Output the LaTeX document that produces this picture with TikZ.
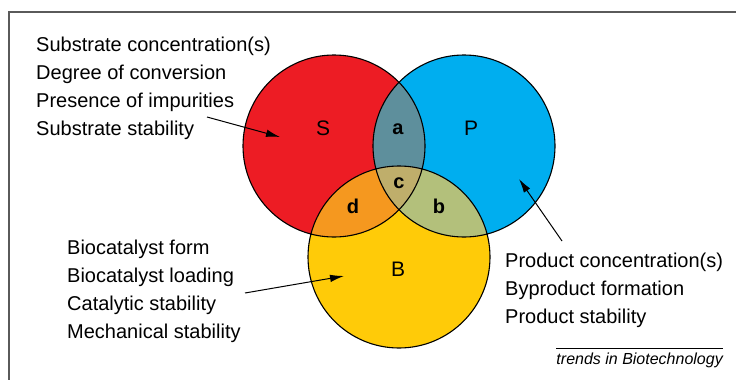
\documentclass[tikz,border=0pt]{standalone}
\usepackage{fontspec}
\setmainfont{Liberation Sans}
\usetikzlibrary{arrows.meta}

\definecolor{subred}{HTML}{ED1C24}
\definecolor{prodblue}{HTML}{00AEEF}
\definecolor{catyellow}{HTML}{FFCB08}
\definecolor{spmix}{HTML}{5E8F9C}
\definecolor{sbmix}{HTML}{F5981F}
\definecolor{pbmix}{HTML}{B3C07B}
\definecolor{allmix}{HTML}{BFAE6B}
\definecolor{framegray}{HTML}{5A5A5A}

\begin{document}
\begin{tikzpicture}[x=1pt,y=-1pt,
  factor/.style={anchor=base west,inner sep=0pt,font=\fontsize{20}{24}\selectfont},
  setlabel/.style={inner sep=0pt,font=\fontsize{21}{24}\selectfont},
  zonelabel/.style={inner sep=0pt,font=\bfseries\fontsize{20}{24}\selectfont},
  pointer/.style={-{Latex[length=14pt,width=7.5pt]},line width=1pt}]
\useasboundingbox (0,0) rectangle (736,380);
\draw[framegray,line width=1.5pt] (9,381) -- (9,12) -- (737,12);
% the three sets
\coordinate (S) at (334,146);
\coordinate (P) at (464,146);
\coordinate (B) at (399,257);
\fill[catyellow] (B) circle (91pt);
\fill[subred] (S) circle (91pt);
\fill[prodblue] (P) circle (91pt);
\begin{scope}
\clip (P) circle (91pt);
\fill[pbmix] (B) circle (91pt);
\end{scope}
\begin{scope}
\clip (S) circle (91pt);
\fill[spmix] (P) circle (91pt);
\fill[sbmix] (B) circle (91pt);
\clip (P) circle (91pt);
\fill[allmix] (B) circle (91pt);
\end{scope}
\draw[line width=1.1pt] (S) circle (91pt) (P) circle (91pt) (B) circle (91pt);
\node[setlabel] (s) at (323,128) {S};
\node[setlabel] (p) at (471,128) {P};
\node[setlabel] (b) at (398,269) {B};
\node[zonelabel] (za) at (398,129) {a};
\node[zonelabel] (zb) at (439,206) {b};
\node[zonelabel] (zc) at (399,183) {c};
\node[zonelabel] (zd) at (353,206) {d};
% substrate factors
\node[factor] (s1) at (36,51) {Substrate concentration(s)};
\node[factor] (s2) at (36,79) {Degree of conversion};
\node[factor] (s3) at (36,107) {Presence of impurities};
\node[factor] (s4) at (36,135) {Substrate stability};
% biocatalyst factors
\node[factor] (b1) at (67,254) {Biocatalyst form};
\node[factor] (b2) at (67,282) {Biocatalyst loading};
\node[factor] (b3) at (67,310) {Catalytic stability};
\node[factor] (b4) at (67,338) {Mechanical stability};
% product factors
\node[factor] (p1) at (505,267) {Product concentration(s)};
\node[factor] (p2) at (505,295) {Byproduct formation};
\node[factor] (p3) at (505,323) {Product stability};
% pointers
\coordinate (stail) at (207,117);
\coordinate (shead) at (280,137);
\coordinate (btail) at (245,293);
\coordinate (bhead) at (344,276);
\coordinate (ptail) at (562,241);
\coordinate (phead) at (519,179);
\draw[pointer] (stail) -- (shead);
\draw[pointer] (btail) -- (bhead);
\draw[pointer] (ptail) -- (phead);
\node[anchor=base east,inner sep=0pt,font=\itshape\fontsize{16}{20}\selectfont] (src) at (723,364) {trends in Biotechnology};
\draw[line width=0.8pt] ([yshift=4pt]src.north west) -- ([yshift=4pt]src.north east);
\end{tikzpicture}
\end{document}
